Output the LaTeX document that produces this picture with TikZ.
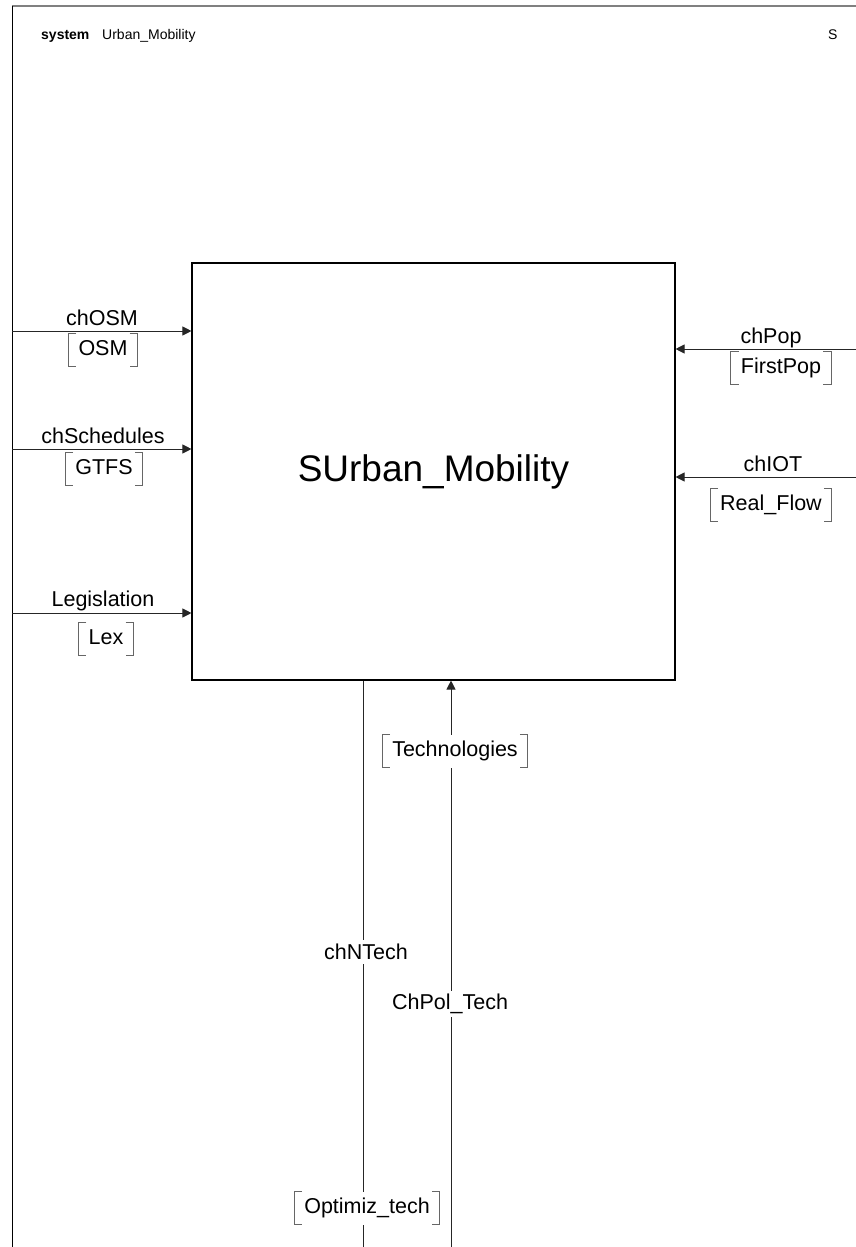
\documentclass[tikz,border=0pt]{standalone}
\usepackage{fontspec}
\setmainfont{Liberation Sans}
\usetikzlibrary{arrows.meta}
\tikzset{
  lbl/.style={font=\fontsize{21.5}{25}\selectfont, inner sep=1pt},
  brk/.style={font=\fontsize{21.5}{25}\selectfont, fill=white, inner xsep=10pt, inner ysep=7pt, text height=15pt, text depth=4pt},
  conn/.style={line width=1pt, draw=black!85},
  arr/.style={conn, -{Triangle[length=9pt,width=9pt]}},
  brkline/.style={draw=black!60, line width=1pt},
  hdr/.style={font=\fontsize{14}{16}\selectfont, inner sep=0pt, anchor=base west},
}
\newcommand\brackets[1]{%
  \draw[brkline] ([xshift=8pt]#1.north west) -| (#1.south west) -- ++(8pt,0pt);
  \draw[brkline] ([xshift=-8pt]#1.north east) -| (#1.south east) -- ++(-8pt,0pt);}
\begin{document}
\begin{tikzpicture}[x=1pt, y=-1pt]
\useasboundingbox (0,0) rectangle (856,1247);
% frame
\coordinate (fTL) at (12,6);
\coordinate (fTR) at (856,6);
\coordinate (fBL) at (12,1247);
\draw[black!50, line width=1.3pt] (fTL) -- (fTR);
\draw[line width=1pt] (fTL) -- (fBL);
% header
\node[hdr, font=\bfseries\fontsize{14}{16}\selectfont] (sys) at (41,39.5) {system};
\node[hdr] (nm) at (102,39.5) {Urban\_Mobility};
\node[hdr] (s) at (828,39.5) {S};
% main block
\node[draw, line width=1.1pt, minimum width=483pt, minimum height=417pt, inner sep=0pt, font=\fontsize{37}{44}\selectfont] (main) at (433.5,471.5) {SUrban\_Mobility};
% left inputs
\coordinate (osmL) at (12,331);
\coordinate (schL) at (12,449);
\coordinate (legL) at (12,613);
\draw[arr] (osmL) -- (osmL -| main.west);
\draw[arr] (schL) -- (schL -| main.west);
\draw[arr] (legL) -- (legL -| main.west);
\node[lbl, anchor=base] (osmlab) at (102,325) {chOSM};
\node[lbl, anchor=base] (schlab) at (103,443) {chSchedules};
\node[lbl, anchor=base] (leglab) at (103,606) {Legislation};
\node[brk] (osm) at (103,350) {OSM};
\node[brk] (gtfs) at (104,469) {GTFS};
\node[brk] (lex) at (106,639) {Lex};
\brackets{osm}\brackets{gtfs}\brackets{lex}
% right inputs
\coordinate (popR) at (856,349);
\coordinate (iotR) at (856,477);
\draw[arr] (popR) -- (popR -| main.east);
\draw[arr] (iotR) -- (iotR -| main.east);
\node[lbl, anchor=base] (poplab) at (771,343) {chPop};
\node[lbl, anchor=base] (iotlab) at (773,471) {chIOT};
\node[brk] (fpop) at (781,368) {FirstPop};
\node[brk] (rflow) at (771,505) {Real\_Flow};
\brackets{fpop}\brackets{rflow}
% bottom
\coordinate (ntB) at (363,1247);
\coordinate (ptB) at (451,1247);
\draw[conn] (ntB) -- (ntB |- main.south);
\draw[arr] (ptB) -- (ptB |- main.south);
\node[lbl, fill=white, inner sep=4pt] (ntlab) at (366,952) {chNTech};
\node[lbl, fill=white, inner sep=3pt] (ptlab) at (450,1004) {ChPol\_Tech};
\node[brk] (tech) at (455,751) {Technologies};
\node[brk] (opt) at (367,1208) {Optimiz\_tech};
\brackets{tech}\brackets{opt}
\end{tikzpicture}
\end{document}
